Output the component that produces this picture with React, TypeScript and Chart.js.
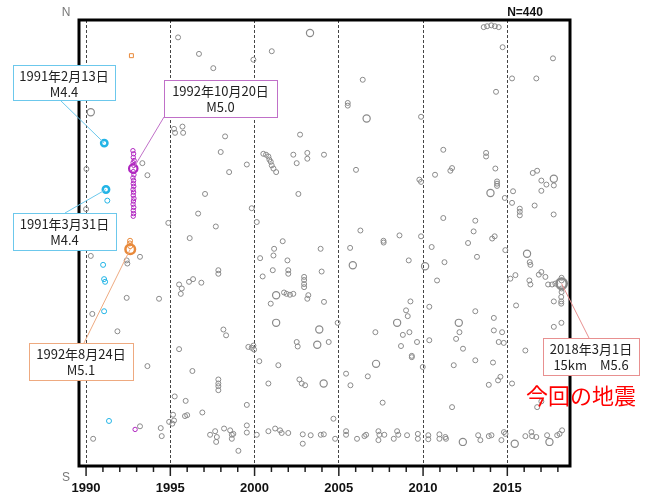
import { useEffect, useRef } from 'react';
import { Chart, registerables } from 'chart.js';
Chart.register(...registerables);

// N-S position: 0 = south edge, 100 = north edge
const majorYears = [1990, 1995, 2000, 2005, 2010, 2015];
const minorYears = [1990, 1991, 1992, 1993, 1994, 1995, 1996, 1997, 1998, 1999, 2000, 2001, 2002, 2003, 2004, 2005, 2006, 2007, 2008, 2009, 2010, 2011, 2012, 2013, 2014, 2015, 2016, 2017, 2018];

const grayQuakes: [number, number][] = [
  [1990.02, 66.6], [1993.34, 67.9], [1993.64, 65.2], [1990.0, 57.6], [1994.88, 54.5],
  [1995.22, 75.6], [1995.28, 74.7], [1995.72, 76.1], [1995.76, 74.7],
  [1995.46, 96.1], [1996.7, 92.4], [1997.06, 61.0], [1996.65, 56.6], [1996.15, 51.1],
  [2001.02, 93.0], [1999.93, 91.1], [1997.55, 89.2], [1998.25, 73.9], [2002.7, 74.3],
  [1997.99, 70.4], [1999.54, 67.6], [1998.49, 65.9],
  [2000.52, 70.0], [2000.68, 69.8], [2000.82, 69.4], [2000.88, 68.7], [2000.96, 68.2], [2001.02, 67.4], [2001.12, 66.7], [2001.28, 65.9],
  [2002.3, 69.8], [2002.5, 67.9], [2003.13, 70.2], [2003.13, 68.9], [2004.12, 69.8],
  [2002.6, 61.0], [1999.83, 57.8], [1997.7, 53.7], [2000.13, 54.7], [2001.67, 50.4],
  [2006.42, 86.6], [2005.53, 81.4], [2005.53, 80.8], [2009.88, 78.3], [2006.02, 66.4],
  [2009.78, 64.2], [2009.88, 63.7], [2010.71, 65.3], [2011.2, 70.9], [2011.2, 55.6],
  [2006.28, 52.8], [2007.65, 50.5], [2008.6, 51.7], [2009.88, 51.5],
  [2013.6, 98.4], [2013.8, 98.6], [2014.05, 98.8], [2014.26, 98.6], [2014.49, 98.4],
  [2014.72, 93.9], [2017.71, 91.4], [2015.28, 86.9], [2016.72, 86.9], [2014.33, 83.9],
  [2013.74, 70.2], [2013.74, 69.4], [2011.72, 66.8], [2011.62, 66.2], [2014.29, 66.7],
  [2014.39, 63.8], [2014.39, 63.3], [2014.39, 62.8], [2014.85, 60.1], [2015.34, 61.6],
  [2016.51, 65.7], [2016.77, 66.2], [2017.02, 64.0], [2017.32, 63.1], [2017.76, 62.9], [2017.02, 61.7],
  [2015.28, 59.0], [2015.74, 57.7], [2015.74, 57.0], [2015.74, 56.2], [2016.62, 58.4], [2017.75, 56.4],
  [2013.1, 55.0], [2013.0, 52.6], [2014.1, 51.0], [2014.25, 51.5], [2012.67, 50.0],
  [1990.28, 47.1], [1993.2, 46.9], [1992.41, 46.1], [1992.45, 45.4], [1992.41, 37.7], [1994.33, 37.5],
  [1990.37, 34.1], [1991.86, 30.2], [1993.64, 22.4], [1993.2, 8.9], [1990.42, 6.1], [1994.43, 8.5], [1994.49, 6.7],
  [1995.52, 40.7], [1995.68, 39.8], [1995.62, 38.6], [1996.11, 41.3], [1996.35, 41.9], [1996.84, 41.1],
  [1995.52, 26.2], [1996.31, 21.3], [1995.26, 15.6], [1995.91, 14.6], [1996.9, 12.0],
  [1995.16, 11.5], [1995.87, 11.2], [1996.0, 11.4], [1994.93, 9.9], [1995.12, 9.5], [1995.22, 10.2],
  [1997.85, 43.9], [1997.85, 43.1], [2000.33, 46.6], [2001.16, 48.7], [2001.12, 47.2],
  [2000.48, 42.5], [2001.08, 43.9], [2001.95, 46.1], [2002.0, 43.9], [2002.0, 43.1],
  [2002.94, 42.4], [2002.94, 41.7], [2002.94, 40.8], [2002.94, 40.1], [2003.19, 38.3], [2003.13, 37.5],
  [2003.92, 48.7], [2003.98, 43.6], [2004.12, 36.8],
  [2001.75, 38.9], [2001.9, 38.6], [2002.1, 38.4], [2002.3, 38.6], [2000.96, 36.4],
  [1998.15, 30.6], [1998.31, 29.3], [1999.63, 26.7], [1999.83, 26.5], [1999.97, 26.1], [1999.93, 27.0],
  [2000.28, 23.5], [2001.41, 22.6], [2002.5, 27.8], [2002.56, 26.8],
  [1997.85, 19.4], [1997.85, 18.5], [1997.85, 17.9], [1997.85, 17.0], [2000.82, 18.5],
  [2002.66, 19.4], [2002.8, 18.5], [2003.0, 18.1], [1999.54, 13.7], [1999.54, 9.1],
  [1997.36, 7.0], [1997.66, 7.8], [1997.76, 6.5], [1997.72, 5.4], [1998.19, 8.4], [1998.55, 8.0],
  [1998.65, 7.0], [1998.65, 6.1], [1998.74, 7.2], [1999.54, 7.5], [2000.13, 7.0], [2000.82, 7.8],
  [2001.22, 8.4], [2001.51, 8.0], [2001.61, 7.4], [2002.0, 7.4], [2002.86, 7.1], [2002.86, 5.0],
  [2003.33, 6.9], [2003.93, 7.0], [1999.04, 3.4],
  [2005.67, 48.9], [2007.66, 50.1], [2009.15, 46.1], [2004.93, 32.1], [2004.4, 27.8], [2007.17, 30.0],
  [2008.8, 29.4], [2009.19, 30.0], [2008.69, 26.9], [2008.99, 34.9], [2009.09, 33.6], [2009.25, 36.9],
  [2009.64, 27.8], [2009.33, 24.7], [2009.33, 24.4], [2009.98, 22.2], [2010.51, 49.1], [2011.27, 45.7],
  [2010.83, 41.6], [2010.37, 35.7], [2010.37, 28.2], [2005.43, 20.7], [2005.69, 18.1], [2006.72, 20.1],
  [2007.6, 14.2], [2004.68, 10.6],
  [2004.11, 7.1], [2004.78, 6.1], [2005.43, 7.8], [2005.43, 7.0], [2006.08, 6.1], [2006.52, 6.7],
  [2006.62, 7.0], [2007.35, 7.8], [2007.41, 7.0], [2007.35, 5.8], [2007.7, 7.0], [2008.26, 6.1],
  [2008.46, 7.8], [2008.53, 7.0], [2009.05, 6.9], [2009.69, 7.2], [2009.69, 6.1], [2010.31, 6.9],
  [2010.31, 6.0], [2010.97, 7.1], [2010.97, 6.1], [2011.36, 6.1],
  [2013.2, 46.9], [2014.88, 48.4], [2016.33, 45.7], [2016.37, 45.1], [2015.18, 42.0], [2015.48, 42.8],
  [2016.31, 41.6], [2016.37, 40.7], [2016.87, 42.9], [2017.02, 43.5], [2017.26, 42.4], [2017.42, 40.7],
  [2017.66, 40.7], [2017.85, 40.9],
  [2018.22, 42.2], [2018.22, 41.6], [2018.22, 39.8], [2018.22, 39.0], [2018.2, 37.9], [2018.2, 36.9], [2018.2, 36.4],
  [2017.76, 36.9], [2015.52, 36.0], [2018.21, 32.1], [2017.76, 31.2], [2013.1, 34.7], [2012.16, 30.0],
  [2011.96, 28.5], [2012.37, 26.3], [2014.2, 33.2], [2014.2, 30.4], [2014.69, 30.0], [2014.49, 27.8],
  [2014.79, 27.6], [2013.1, 23.7], [2011.82, 22.6], [2014.15, 23.2], [2016.07, 25.9], [2014.59, 20.0],
  [2014.45, 19.2], [2013.9, 18.2], [2015.28, 18.5], [2011.72, 13.2], [2017.02, 14.5], [2016.77, 13.2],
  [2011.32, 6.5], [2013.27, 6.9], [2013.4, 5.8], [2013.9, 6.7], [2014.06, 6.9], [2014.65, 5.8],
  [2014.8, 7.6], [2014.89, 7.2], [2016.07, 6.7], [2016.43, 7.6], [2016.47, 6.7], [2016.72, 6.5],
  [2017.36, 6.9], [2017.96, 6.9], [2018.1, 7.2], [2018.25, 8.0],
];

const grayLargeQuakes: [number, number][] = [
  [1990.28, 79.3], [2003.29, 97.1], [2006.65, 77.9], [2014.0, 61.2], [2017.76, 64.4],
  [2001.28, 38.3], [2001.28, 32.1], [2003.72, 27.2], [2003.84, 30.6], [2004.1, 18.5],
  [2005.83, 45.0], [2008.46, 32.1], [2010.12, 44.8], [2007.21, 22.9], [2016.17, 47.6],
  [2012.12, 32.1], [2012.36, 5.4], [2015.44, 5.0], [2017.5, 5.4],
];

const cyanQuakes: [number, number][] = [
  [1991.26, 59.5], [1991.01, 45.1], [1991.07, 41.9], [1991.13, 41.3], [1991.07, 34.7], [1991.36, 10.1],
];
const cyanLabeled: [number, number][] = [[1991.08, 72.4], [1991.18, 62.0]];

const purpleQuakes: [number, number][] = [
  [1992.78, 70.7], [1992.82, 70.0], [1992.8, 69.2], [1992.85, 68.5], [1992.79, 68.0], [1992.83, 67.4],
  [1992.8, 66.0], [1992.84, 65.3], [1992.78, 64.6], [1992.82, 64.0], [1992.8, 63.3], [1992.83, 62.7],
  [1992.79, 62.0], [1992.82, 61.4], [1992.8, 60.7], [1992.84, 60.0], [1992.81, 59.4], [1992.79, 58.7],
  [1992.83, 58.0], [1992.8, 57.3], [1992.82, 56.6], [1992.8, 56.0], [1992.91, 8.2],
];
const purpleLabeled: [number, number][] = [[1992.8, 66.7]];

const orangeQuakes: [number, number][] = [[1992.61, 50.5], [1992.6, 49.9], [1992.62, 49.3]];
const orangeSquare: [number, number][] = [[1992.69, 92.0]];
const orangeLabeled: [number, number][] = [[1992.62, 48.6]];

const mainQuake: [number, number][] = [[2018.22, 40.9]];

const toPts = (arr: [number, number][]) => arr.map(([x, y]) => ({ x, y }));

const GRAY = '#8a8a8a';
const CYAN = '#22b4e6';
const PURPLE = '#b026c0';
const ORANGE = '#e8893a';

type Note = { lines: string[]; box: [number, number, number, number]; from: [number, number]; to: [number, number]; color: string };

const notes: Note[] = [
  { lines: ['1991年2月13日', 'M4.4'], box: [13, 65, 102, 35], from: [60, 100], to: cyanLabeled[0], color: '#6cc8ec' },
  { lines: ['1991年3月31日', 'M4.4'], box: [13, 213, 103, 37], from: [65, 213], to: cyanLabeled[1], color: '#6cc8ec' },
  { lines: ['1992年10月20日', 'M5.0'], box: [164, 80, 113, 37], from: [164, 117], to: purpleLabeled[0], color: '#c070c8' },
  { lines: ['1992年8月24日', 'M5.1'], box: [29, 343, 104, 37], from: [84, 343], to: orangeLabeled[0], color: '#eeaa80' },
  { lines: ['2018年3月1日', '15km　M5.6'], box: [543, 338, 96, 37], from: [589, 338], to: mainQuake[0], color: '#e89090' },
];

const overlay = {
  id: 'overlay',
  afterDraw(chart: any) {
    const { ctx, chartArea: a, scales } = chart;
    const x = scales.x, y = scales.y;
    ctx.save();
    // year ticks
    ctx.strokeStyle = '#222';
    ctx.lineWidth = 1.5;
    minorYears.forEach((v) => {
      const px = x.getPixelForValue(v);
      const len = v % 5 === 0 ? 10 : 6;
      ctx.beginPath();
      ctx.moveTo(px, a.bottom);
      ctx.lineTo(px, a.bottom + len);
      ctx.stroke();
    });
    // frame
    ctx.strokeStyle = '#000';
    ctx.lineWidth = 3;
    ctx.strokeRect(a.left, a.top, a.right - a.left, a.bottom - a.top);
    // N / S / count
    ctx.fillStyle = '#777';
    ctx.font = '12px "Liberation Sans", Arial, sans-serif';
    ctx.textAlign = 'center';
    ctx.textBaseline = 'middle';
    ctx.fillText('N', 66, 13);
    ctx.fillText('S', 66, 478);
    ctx.fillStyle = '#111';
    ctx.font = 'bold 12px "Liberation Sans", Arial, sans-serif';
    ctx.fillText('N=440', 525, 13);
    // annotations
    notes.forEach((n) => {
      const tx = x.getPixelForValue(n.to[0]);
      const ty = y.getPixelForValue(n.to[1]);
      ctx.strokeStyle = n.color;
      ctx.lineWidth = 1;
      ctx.beginPath();
      ctx.moveTo(n.from[0], n.from[1]);
      ctx.lineTo(tx, ty);
      ctx.stroke();
    });
    notes.forEach((n) => {
      const [bx, by, bw, bh] = n.box;
      ctx.fillStyle = '#fff';
      ctx.fillRect(bx, by, bw, bh);
      ctx.strokeStyle = n.color;
      ctx.lineWidth = 1;
      ctx.strokeRect(bx + 0.5, by + 0.5, bw, bh);
      ctx.fillStyle = '#222';
      ctx.font = '13px "Noto Sans CJK JP", sans-serif';
      ctx.textAlign = 'center';
      ctx.textBaseline = 'middle';
      ctx.fillText(n.lines[0], bx + bw / 2, by + 11);
      ctx.fillText(n.lines[1], bx + bw / 2, by + 27);
    });
    ctx.fillStyle = '#ff0000';
    ctx.font = '22px "Noto Sans CJK JP", sans-serif';
    ctx.textAlign = 'center';
    ctx.fillText('今回の地震', 581, 396);
    ctx.restore();
  },
};

export default function App() {
  const ref = useRef<HTMLCanvasElement>(null);
  useEffect(() => {
    if (!ref.current) return;
    const ds = (data: [number, number][], color: string, r: number, bw: number, style: any = 'circle') => ({
      data: toPts(data),
      borderColor: color,
      backgroundColor: 'rgba(0,0,0,0)',
      pointRadius: r,
      pointBorderWidth: bw,
      pointStyle: style,
    });
    const chart = new Chart(ref.current, {
      type: 'scatter',
      data: {
        datasets: [
          ds(grayQuakes, GRAY, 2.5, 1),
          ds(grayLargeQuakes, GRAY, 3.6, 1.2),
          ds(cyanQuakes, CYAN, 2.5, 1),
          ds(cyanLabeled, CYAN, 3.2, 2.5),
          ds(purpleQuakes, PURPLE, 2.2, 1),
          ds(purpleLabeled, PURPLE, 4.2, 2.2),
          ds(orangeQuakes, ORANGE, 2.5, 1),
          ds(orangeSquare, ORANGE, 2.8, 1, 'rect'),
          ds(orangeLabeled, ORANGE, 4.8, 2.5),
          ds(mainQuake, '#8a8a8a', 5.2, 2.5),
        ] as any,
      },
      options: {
        animation: false,
        responsive: true,
        maintainAspectRatio: false,
        layout: { padding: { left: 79, right: 78, top: 20, bottom: 0 } },
        plugins: { legend: { display: false }, tooltip: { enabled: false } },
        scales: {
          x: {
            type: 'linear',
            min: 1989.58,
            max: 2018.72,
            afterBuildTicks: (s: any) => { s.ticks = majorYears.map((v) => ({ value: v })); },
            afterFit: (s: any) => { s.height = 34; },
            grid: { color: '#444', lineWidth: 1, drawTicks: false },
            border: { display: false, dash: [3, 2] },
            ticks: {
              autoSkip: false,
              maxRotation: 0,
              padding: 15,
              color: '#111',
              font: { family: '"Liberation Sans", Arial, sans-serif', size: 13, weight: 'bold' },
              callback: (v: any) => String(v),
            },
          },
          y: { type: 'linear', min: 0, max: 100, display: false },
        },
      },
      plugins: [overlay],
    });
    return () => chart.destroy();
  }, []);
  return (
    <div style={{ position: 'absolute', left: 0, top: 0, width: 648, height: 500, background: '#fff' }}>
      <canvas ref={ref} />
    </div>
  );
}
